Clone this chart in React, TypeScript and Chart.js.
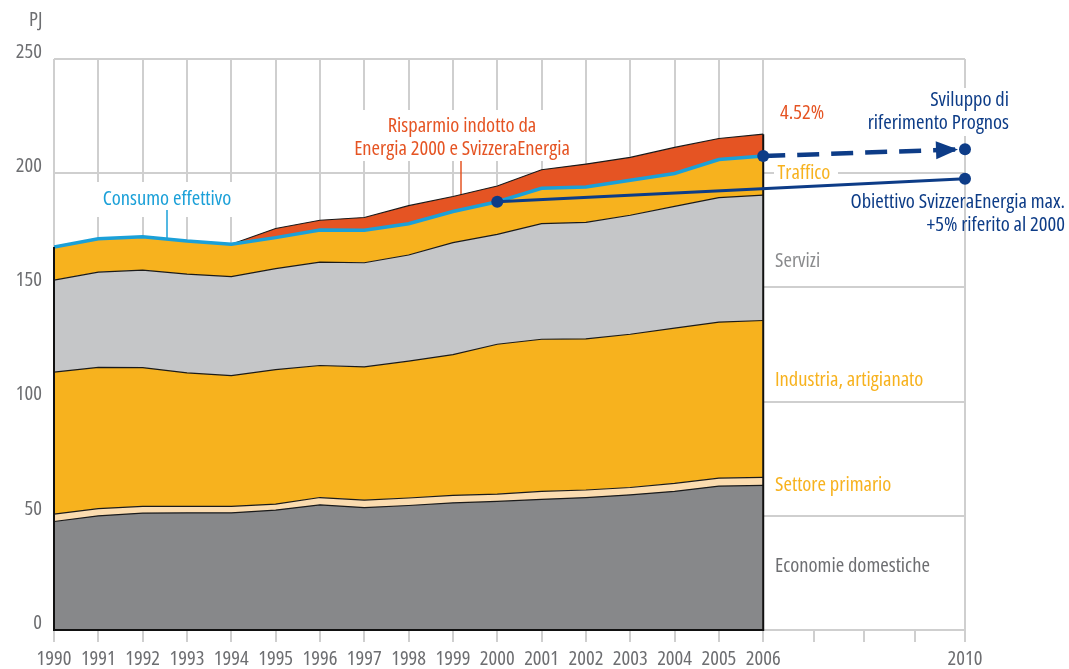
import { useEffect, useRef } from 'react';
import { Chart, registerables } from 'chart.js';

Chart.register(...registerables);

// ---------- data ----------
const YEARS = [1990, 1991, 1992, 1993, 1994, 1995, 1996, 1997, 1998, 1999, 2000, 2001, 2002, 2003, 2004, 2005, 2006];
const ECONOMIE_DOMESTICHE = [47.5, 50.0, 51.2, 51.3, 51.3, 52.5, 54.8, 53.6, 54.5, 55.7, 56.3, 57.2, 58.0, 59.2, 60.7, 63.0, 63.3];
const SETTORE_PRIMARIO = [3.2, 3.1, 2.9, 2.8, 2.8, 2.6, 3.2, 3.3, 3.3, 3.2, 3.2, 3.5, 3.3, 3.2, 3.5, 3.5, 3.5];
const INDUSTRIA = [62.2, 61.9, 60.8, 58.5, 57.3, 58.9, 57.8, 58.3, 59.9, 61.7, 65.6, 66.6, 66.2, 67.1, 68.0, 68.3, 68.7];
const SERVIZI = [40.3, 41.7, 42.7, 43.2, 43.3, 44.2, 45.3, 45.6, 46.5, 49.0, 48.1, 50.6, 51.0, 52.1, 53.3, 54.5, 54.9];
const TRAFFICO = [14.5, 14.6, 14.6, 14.5, 14.2, 13.6, 14.0, 14.2, 13.7, 13.6, 14.3, 15.5, 15.5, 15.3, 14.4, 16.7, 17.1];
const RISPARMIO = [0, 0, 0, 0, 0, 4.0, 4.3, 5.6, 7.9, 6.6, 6.9, 8.1, 10.0, 10.0, 11.4, 9.2, 9.6];

const OBIETTIVO_YEARS = [2000, 2010];
const OBIETTIVO = [187.5, 197.6];
const PROGNOS_YEARS = [2006, 2010];
const PROGNOS = [207.5, 210.5];

const Y_TICKS = [0, 50, 100, 150, 200, 250];
const TICK_YEARS = [1990, 1991, 1992, 1993, 1994, 1995, 1996, 1997, 1998, 1999, 2000, 2001, 2002, 2003, 2004, 2005, 2006, 2007, 2008, 2009, 2010];
const LABEL_YEARS = [1990, 1991, 1992, 1993, 1994, 1995, 1996, 1997, 1998, 1999, 2000, 2001, 2002, 2003, 2004, 2005, 2006, 2010];
const GRID_YEARS = LABEL_YEARS;

// ---------- style ----------
const C_DOM = '#87888a';
const C_PRIM = '#fbdcb0';
const C_YEL = '#f7b21e';
const C_SERV = '#c5c6c8';
const C_RED = '#e55423';
const C_CYAN = '#1ba0d8';
const C_NAVY = '#0d3c87';
const C_GRID = '#cfcfcf';
const C_TEXT = '#6d6e71';

type FontPick = { stretch: string; family: string; tick: number; label: number };
let FP: FontPick = { stretch: '', family: "'Open Sans', sans-serif", tick: 16, label: 16 };

// choose the narrowest available face (the original uses a condensed typeface)
function pickFont(): FontPick {
  const c = document.createElement('canvas').getContext('2d') as CanvasRenderingContext2D;
  const cands = [
    { stretch: 'condensed', family: "'Open Sans', sans-serif" },
    { stretch: 'condensed', family: "'Noto Sans', sans-serif" },
    { stretch: '', family: "'DejaVu Sans Condensed', 'Open Sans', sans-serif" },
    { stretch: 'condensed', family: "'DejaVu Sans', sans-serif" },
    { stretch: 'semi-condensed', family: "'Open Sans', sans-serif" },
    { stretch: '', family: "'Open Sans', sans-serif" },
  ];
  let best: FontPick | null = null;
  for (const cd of cands) {
    c.font = `${cd.stretch ? cd.stretch + ' ' : ''}19px ${cd.family}`;
    const w = c.measureText('1990').width;
    const wl = c.measureText('Economie domestiche').width;
    const tick = Math.min(20.5, (19 * 36) / w);
    const label = Math.min(21, (19 * 155) / wl);
    if (!best || tick > best.tick + 0.3) best = { ...cd, tick, label };
  }
  return best as FontPick;
}
const fontStr = (size: number) => `${FP.stretch ? FP.stretch + ' ' : ''}${size}px ${FP.family}`;

// piecewise year -> axis position (the 2006-2010 span is drawn a bit wider)
const GAP_SCALE = 1.138;
const pos = (yr: number) => (yr <= 2006 ? yr - 1990 : 16 + (yr - 2006) * GAP_SCALE);
const yearAt = (v: number) => TICK_YEARS.find((yr) => Math.abs(pos(yr) - v) < 1e-6);

const LAYERS = [ECONOMIE_DOMESTICHE, SETTORE_PRIMARIO, INDUSTRIA, SERVIZI, TRAFFICO, RISPARMIO];
const LAYER_COLORS = [C_DOM, C_PRIM, C_YEL, C_SERV, C_YEL, C_RED];

function buildTops() {
  let running = YEARS.map(() => 0);
  return LAYERS.map((arr) => {
    running = running.map((r, i) => r + arr[i]);
    return running;
  });
}

const edgesPlugin = {
  id: 'edges',
  afterDatasetDraw(chart: any, args: any) {
    if (args.index !== 0) return;
    const tops = buildTops();
    const xs = chart.scales.x, ys = chart.scales.y;
    const ctx = chart.ctx;
    const x0 = xs.getPixelForValue(pos(YEARS[0]));
    const x1 = xs.getPixelForValue(pos(YEARS[YEARS.length - 1]));
    const yb = ys.getPixelForValue(0);
    ctx.save();
    ctx.strokeStyle = '#111';
    ctx.lineWidth = 2;
    ctx.beginPath();
    ctx.moveTo(x0, ys.getPixelForValue(tops[4][0]));
    ctx.lineTo(x0, yb);
    ctx.lineTo(x1, yb);
    ctx.lineTo(x1, ys.getPixelForValue(tops[5][YEARS.length - 1]));
    ctx.stroke();
    ctx.restore();
  },
};

function text(ctx: CanvasRenderingContext2D, s: string, x: number, y: number, color: string, align: CanvasTextAlign = 'left', size?: number) {
  ctx.font = fontStr(size ?? FP.label);
  ctx.fillStyle = color;
  ctx.textAlign = align;
  ctx.textBaseline = 'middle';
  ctx.fillText(s, x, y);
}

const labelsPlugin = {
  id: 'labels',
  beforeDatasetsDraw(chart: any) {
    const ctx: CanvasRenderingContext2D = chart.ctx;
    ctx.save();
    // white boxes behind annotations
    ctx.fillStyle = '#ffffff';
    ctx.fillRect(92, 182, 150, 35);
    ctx.fillRect(342, 110, 240, 51);
    ctx.fillRect(862, 88, 154, 48);
    ctx.fillRect(774, 163, 64, 21);
    // leader lines
    ctx.lineWidth = 1.5;
    ctx.strokeStyle = C_CYAN;
    ctx.beginPath();
    ctx.moveTo(167, 210);
    ctx.lineTo(167, 242);
    ctx.stroke();
    ctx.strokeStyle = C_RED;
    ctx.beginPath();
    ctx.moveTo(461, 161);
    ctx.lineTo(461, 200);
    ctx.stroke();

    text(ctx, 'PJ', 29, 20, C_TEXT, 'left', FP.tick);
    text(ctx, 'Consumo effettivo', 167, 199, C_CYAN, 'center');
    text(ctx, 'Risparmio indotto da', 462, 126, C_RED, 'center');
    text(ctx, 'Energia 2000 e SvizzeraEnergia', 462, 149, C_RED, 'center');
    text(ctx, '4.52%', 802, 113, C_RED, 'center');
    text(ctx, 'Sviluppo di', 1009, 100, C_NAVY, 'right');
    text(ctx, 'riferimento Prognos', 1009, 123, C_NAVY, 'right');
    text(ctx, 'Traffico', 804, 173, C_YEL, 'center');
    text(ctx, 'Obiettivo SvizzeraEnergia max.', 1065, 202, C_NAVY, 'right');
    text(ctx, '+5% riferito al 2000', 1065, 225, C_NAVY, 'right');
    text(ctx, 'Servizi', 775, 261, '#8a8b8d');
    text(ctx, 'Industria, artigianato', 775, 380, C_YEL);
    text(ctx, 'Settore primario', 775, 485, C_YEL);
    text(ctx, 'Economie domestiche', 775, 566, C_TEXT);
    ctx.restore();
  },
  afterDatasetsDraw(chart: any) {
    // arrow head on the Prognos projection
    const xs = chart.scales.x, ys = chart.scales.y;
    const ctx: CanvasRenderingContext2D = chart.ctx;
    const ax = xs.getPixelForValue(pos(PROGNOS_YEARS[0]));
    const ay = ys.getPixelForValue(PROGNOS[0]);
    const bx = xs.getPixelForValue(pos(PROGNOS_YEARS[1]));
    const by = ys.getPixelForValue(PROGNOS[1]);
    const len = Math.hypot(bx - ax, by - ay);
    const ux = (bx - ax) / len, uy = (by - ay) / len;
    const tipX = bx - ux * 7, tipY = by - uy * 7;
    const baseX = tipX - ux * 22, baseY = tipY - uy * 22;
    ctx.save();
    ctx.fillStyle = C_NAVY;
    ctx.beginPath();
    ctx.moveTo(tipX, tipY);
    ctx.lineTo(baseX - uy * 9, baseY + ux * 9);
    ctx.lineTo(baseX + uy * 9, baseY - ux * 9);
    ctx.closePath();
    ctx.fill();
    ctx.restore();
  },
};

export default function App() {
  const ref = useRef<HTMLCanvasElement>(null);

  useEffect(() => {
    FP = pickFont();
    const tickFont = { family: FP.family, size: FP.tick, weight: (FP.stretch || undefined) as any };
    const tops = buildTops();
    const areaSets = tops.map((top, i) => ({
      data: YEARS.map((yr, j) => ({ x: pos(yr), y: top[j] })),
      backgroundColor: LAYER_COLORS[i],
      borderColor: i === 4 ? C_CYAN : '#1a1a1a',
      borderWidth: i === 4 ? 3.5 : 1.2,
      fill: i === 0 ? 'origin' : i - 1,
      pointRadius: 0,
      tension: 0,
      order: 1,
    }));
    const projSets = [
      {
        data: OBIETTIVO_YEARS.map((yr, j) => ({ x: pos(yr), y: OBIETTIVO[j] })),
        borderColor: C_NAVY,
        borderWidth: 3,
        pointRadius: 6,
        pointBackgroundColor: C_NAVY,
        pointBorderWidth: 0,
        fill: false,
        clip: false,
        order: 0,
      },
      {
        data: PROGNOS_YEARS.map((yr, j) => ({ x: pos(yr), y: PROGNOS[j] })),
        borderColor: C_NAVY,
        borderWidth: 4.5,
        borderDash: [22, 12],
        pointRadius: 6,
        pointBackgroundColor: C_NAVY,
        pointBorderWidth: 0,
        fill: false,
        clip: false,
        order: 0,
      },
    ];

    const chart = new Chart(ref.current as HTMLCanvasElement, {
      type: 'line',
      data: { datasets: [...areaSets, ...projSets] as any },
      options: {
        responsive: false,
        animation: false,
        devicePixelRatio: 1,
        layout: { padding: { top: 59, right: 104, left: 0, bottom: 0 } },
        plugins: { legend: { display: false }, tooltip: { enabled: false } },
        scales: {
          x: {
            type: 'linear',
            min: 0,
            max: pos(2010),
            afterBuildTicks: (s: any) => {
              s.ticks = TICK_YEARS.map((yr) => ({ value: pos(yr) }));
            },
            afterFit: (s: any) => {
              s.height = 39;
            },
            ticks: {
              autoSkip: false,
              maxRotation: 0,
              minRotation: 0,
              padding: 5,
              color: C_TEXT,
              font: tickFont,
              callback: (v: any) => {
                const yr = yearAt(Number(v));
                return yr !== undefined && LABEL_YEARS.includes(yr) ? String(yr) : '';
              },
            },
            grid: {
              color: (c: any) => {
                const yr = c.tick ? yearAt(c.tick.value) : undefined;
                return yr !== undefined && GRID_YEARS.includes(yr) ? C_GRID : 'rgba(0,0,0,0)';
              },
              tickColor: C_GRID,
              lineWidth: 2,
              tickLength: 12,
            },
            border: { display: false },
          },
          y: {
            min: 0,
            max: 250,
            afterBuildTicks: (s: any) => {
              s.ticks = Y_TICKS.map((v) => ({ value: v }));
            },
            afterFit: (s: any) => {
              s.width = 54;
            },
            ticks: {
              padding: 12,
              labelOffset: -7,
              color: C_TEXT,
              font: tickFont,
              callback: (v: any) => String(v),
            },
            grid: { color: C_GRID, lineWidth: 2, drawTicks: false },
            border: { display: false },
          },
        },
      },
      plugins: [labelsPlugin, edgesPlugin],
    });
    return () => chart.destroy();
  }, []);

  return (
    <div style={{ position: 'absolute', left: 0, top: 0, width: 1069, height: 669, background: '#ffffff' }}>
      <canvas ref={ref} width={1069} height={669} style={{ display: 'block' }} />
    </div>
  );
}
